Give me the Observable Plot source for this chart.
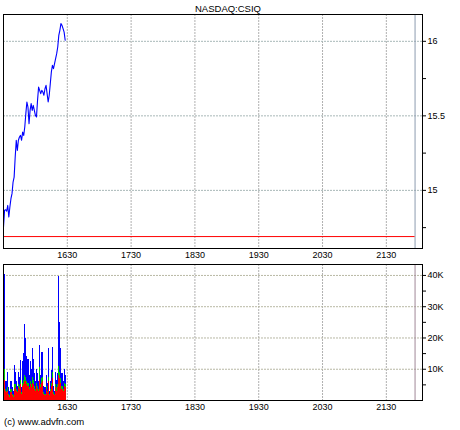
<!DOCTYPE html>
<html><head><meta charset="utf-8">
<script src="https://cdn.jsdelivr.net/npm/d3@7"></script>
<script src="https://cdn.jsdelivr.net/npm/@observablehq/plot@0.6"></script>
<style>
body{margin:0;background:#fff;}
#wrap{position:relative;width:460px;height:430px;font-family:"Liberation Sans",Arial,sans-serif;color:#000;}
#title{position:absolute;left:195px;top:3px;font-size:9.5px;white-space:nowrap;}
#p1{position:absolute;left:0;top:0;}
#p2{position:absolute;left:0;top:262px;}
#cap{position:absolute;left:4px;top:416px;font-size:9.5px;white-space:nowrap;}
</style>
</head><body>
<div id="wrap">
  <div id="p1"></div>
  <div id="p2"></div>
  <div id="title">NASDAQ:CSIQ</div>
  <div id="cap">(c) www.advfn.com</div>
</div>
<script>
// ---- data ----
const symbol = "NASDAQ:CSIQ";
const sessionStart = "15:30";   // left edge of the chart
const sessionEnd = "22:04";     // right edge of the chart
const closeMarker = "21:57";    // vertical end-of-session marker
const priceStart = "15:30";     // first price minute (one value per minute)
const volumeStart = "15:31";    // first volume minute (one bar per minute)
const prevClose = 14.69;
const xTickLabels = ["16:30","17:30","18:30","19:30","20:30","21:30"];
const priceMajorTicks = [15, 15.5, 16];
const priceMinorTicks = [14.75, 15.25, 15.75];
const volMajorTicks = [10000, 20000, 30000, 40000];
const volMinorTicks = [5000, 15000, 25000, 35000];

const prices = [14.754,14.866,14.870,14.861,14.899,14.821,14.888,14.944,14.978,15.056,
  15.089,15.224,15.336,15.268,15.336,15.358,15.369,15.336,15.391,15.369,
  15.425,15.515,15.593,15.559,15.448,15.537,15.582,15.537,15.570,15.537,
  15.503,15.492,15.604,15.693,15.671,15.649,15.671,15.660,15.638,15.682,
  15.705,15.649,15.593,15.638,15.716,15.794,15.839,15.817,15.850,15.884,
  15.917,15.962,16.040,16.074,16.119,16.107,16.085,16.062,16.007];

// volume per minute, in thousands, split by colour (red bottom, green middle, blue top)
const volRed = [6.5,3,2.5,3,1.5,1,2.5,1.5,1,3.5,4,3,2.5,4,3.5,5,2,4.5,5,6,
  6,5,4.5,3.5,5,4,5.5,5,3.5,3,4.5,3.5,3,6.5,4,5.5,6,2,1.5,3.5,
  2.5,6,1.5,3,4.5,7,2,1.5,4,3,4,8,7,5.5,3.5,3,4.5,4];
const volGreen = [3.5,0.5,0.5,1,0.5,0.5,1,0.5,0.5,1.5,1,0.5,0.5,1,1,1.5,0.5,1,1.5,2,
  1.5,1,1,0.5,1,1,2,1.5,1,0.5,1,1,0.5,4,1,1.5,1.5,0.5,0.5,1,
  0.5,1.5,0.5,0.5,1,2,0.5,0.5,1,1,1,3,2,1.5,1,0.5,1,1];
const volBlue = [30.2,2.5,3,5,2,1.5,2.5,2,1.5,6.3,3.8,2.5,1.5,4,3,6.4,1.5,6.9,8.5,16.3,
  12.3,8,7.5,4,6.4,5,9.1,6.5,4,2.5,4.5,4,2.5,7.2,3,8.5,8,2,2,3.5,
  2.5,9.1,1,2.5,4.1,8,2,1,4,2.5,3.5,28.8,16,9.6,4,2.5,4.5,3];

// ---- helpers ----
const parseT = s => { const [h,m] = s.split(":").map(Number); return new Date(Date.UTC(2000,0,1,h,m)); };
const addMin = (d, n) => new Date(+d + n*60000);
const t0 = parseT(sessionStart), t1 = parseT(sessionEnd), tMark = parseT(closeMarker);
const xTicks = xTickLabels.map(parseT);
const fmtX = d3.utcFormat("%H%M");

const priceData = prices.map((p, i) => ({t: addMin(parseT(priceStart), i), p}));
const volData = [];
const colors = [["#ff0000", volRed], ["#00cc00", volGreen], ["#0000ff", volBlue]];
volRed.forEach((_, i) => {
  const a = addMin(parseT(volumeStart), i), b = addMin(a, 1);
  for (const [c, arr] of colors) volData.push({t1: a, t2: b, v: arr[i]*1000, c});
});

const font = {fontFamily: '"Liberation Sans", Arial, sans-serif', fontSize: "9px", color: "#000", background: "#fff"};
const gridStyle = {strokeOpacity: 1, strokeDasharray: "2,1"};

const p1 = Plot.plot({
  width: 460, height: 262,
  marginTop: 14, marginBottom: 14, marginLeft: 3, marginRight: 38,
  style: font,
  x: {type: "utc", domain: [t0, t1], label: null},
  y: {domain: [14.61, 16.18], label: null},
  marks: [
    Plot.gridX(xTicks, {stroke: "#b0b0b0", ...gridStyle}),
    Plot.gridY(priceMajorTicks, {stroke: "#a8b8b8", ...gridStyle}),
    Plot.ruleX([tMark], {stroke: "#8c9cb0", strokeWidth: 1}),
    Plot.ruleY([{y: prevClose, a: t0, b: tMark}], {y: "y", x1: "a", x2: "b", stroke: "#ff0000", strokeWidth: 1}),
    Plot.line(priceData, {x: "t", y: "p", stroke: "#0000ff", strokeWidth: 1.1}),
    Plot.axisX(xTicks, {tickSize: 0, tickPadding: 3, tickFormat: fmtX, label: null}),
    Plot.axisY([...priceMajorTicks, ...priceMinorTicks], {anchor: "right", tickSize: 3, tickPadding: 2, label: null,
      tickFormat: d => priceMajorTicks.includes(d) ? d3.format("")(d) : ""}),
    Plot.frame({stroke: "#000", strokeWidth: 1})
  ]
});
document.getElementById("p1").append(p1);

const p2 = Plot.plot({
  width: 460, height: 152,
  marginTop: 2, marginBottom: 14, marginLeft: 3, marginRight: 38,
  style: font,
  x: {type: "utc", domain: [t0, t1], label: null},
  y: {domain: [0, 43500], label: null},
  color: {type: "identity"},
  marks: [
    Plot.gridX(xTicks, {stroke: "#b0b0b0", ...gridStyle}),
    Plot.gridY(volMajorTicks, {stroke: "#b8b8a4", ...gridStyle}),
    Plot.ruleX([tMark], {stroke: "#a08898", strokeWidth: 1}),
    Plot.rectY(volData, {x1: "t1", x2: "t2", y: "v", fill: "c", shapeRendering: "crispEdges"}),
    Plot.axisX(xTicks, {tickSize: 0, tickPadding: 3, tickFormat: fmtX, label: null}),
    Plot.axisY([...volMajorTicks, ...volMinorTicks], {anchor: "right", tickSize: 3, tickPadding: 2, label: null,
      tickFormat: d => volMajorTicks.includes(d) ? (d/1000) + "K" : ""}),
    Plot.frame({stroke: "#000", strokeWidth: 1})
  ]
});
document.getElementById("p2").append(p2);
</script>
</body></html>
